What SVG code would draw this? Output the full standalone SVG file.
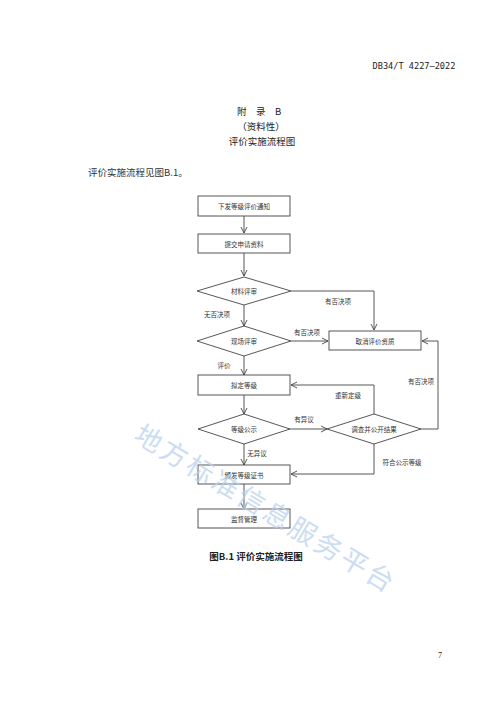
<svg xmlns="http://www.w3.org/2000/svg" width="500" height="707" viewBox="0 0 500 707">
<style>
.box{fill:#fff;stroke:#444;stroke-width:0.9}
.ln{fill:none;stroke:#444;stroke-width:0.9}
.t{font-family:"Noto Sans CJK SC",sans-serif;font-size:6.5px;fill:#333;text-anchor:middle;dominant-baseline:central}
.lb{font-family:"Noto Sans CJK SC",sans-serif;font-size:6.5px;fill:#333;text-anchor:middle;dominant-baseline:central}
.h{font-family:"Noto Sans CJK SC",sans-serif;fill:#222;text-anchor:middle}
.wm{font-family:"Noto Sans CJK SC",sans-serif;font-size:27px;letter-spacing:3px;fill:#b9d2ee;opacity:0.75}
</style>
<defs>
<marker id="ar" markerWidth="8" markerHeight="8" refX="7" refY="4" orient="auto" markerUnits="userSpaceOnUse">
<polyline points="1,1 7,4 1,7" fill="none" stroke="#444" stroke-width="0.9"/>
</marker>
</defs>
<rect width="500" height="707" fill="#fff"/>
<text class="h" x="414" y="69" font-size="8.6" style="font-family:'DejaVu Sans Mono','Liberation Mono',monospace">DB34/T 4227—2022</text>
<text class="h" x="259" y="115" font-size="9.5">附　录　B</text>
<text class="h" x="261" y="130" font-size="9.5">（资料性）</text>
<text class="h" x="262" y="145" font-size="9.5">评价实施流程图</text>
<text x="88" y="176" font-size="9.5" style="font-family:'Noto Sans CJK SC',sans-serif;fill:#333">评价实施流程见图B.1。</text>
<g id="connectors">
<path class="ln" d="M244,216 V233" marker-end="url(#ar)"/>
<path class="ln" d="M244,253 V276" marker-end="url(#ar)"/>
<path class="ln" d="M291,291 H374 V330" marker-end="url(#ar)"/>
<path class="ln" d="M244,305 V326" marker-end="url(#ar)"/>
<path class="ln" d="M291,341 H328" marker-end="url(#ar)"/>
<path class="ln" d="M244,356 V375" marker-end="url(#ar)"/>
<path class="ln" d="M244,395 V414" marker-end="url(#ar)"/>
<path class="ln" d="M290,429 H327" marker-end="url(#ar)"/>
<path class="ln" d="M374,414 V385 H291" marker-end="url(#ar)"/>
<path class="ln" d="M421,429 H438 V341 H422" marker-end="url(#ar)"/>
<path class="ln" d="M374,444 V474 H291" marker-end="url(#ar)"/>
<path class="ln" d="M244,444 V465" marker-end="url(#ar)"/>
<path class="ln" d="M244,484 V509" marker-end="url(#ar)"/>
<text class="lb" x="338" y="301">有否决项</text>
<text class="lb" x="217" y="314">无否决项</text>
<text class="lb" x="307" y="332">有否决项</text>
<text class="lb" x="224" y="365">评价</text>
<text class="lb" x="421" y="381">有否决项</text>
<text class="lb" x="348" y="395">重新定级</text>
<text class="lb" x="304" y="419">有异议</text>
<text class="lb" x="257" y="453">无异议</text>
<text class="lb" x="402" y="462">符合公示等级</text>
</g>
<g id="n1"><rect class="box" x="198" y="196" width="92" height="20"/><text class="t" x="244" y="206">下发等级评价通知</text></g>
<g id="n2"><rect class="box" x="198" y="234" width="92" height="19"/><text class="t" x="244" y="243.5">提交申请资料</text></g>
<g id="n3"><polygon class="box" points="197,291 244,277 291,291 244,305"/><text class="t" x="244" y="291">材料评审</text></g>
<g id="n4"><polygon class="box" points="197,341 244,326 291,341 244,356"/><text class="t" x="244" y="341">现场评审</text></g>
<g id="n5"><rect class="box" x="329" y="331" width="92" height="19"/><text class="t" x="375" y="340.5">取消评价资质</text></g>
<g id="n6"><rect class="box" x="198" y="375" width="92" height="20"/><text class="t" x="244" y="385">拟定等级</text></g>
<g id="n7"><polygon class="box" points="198,429 244,414 290,429 244,444"/><text class="t" x="244" y="429">等级公示</text></g>
<g id="n8"><polygon class="box" points="327,429 374,414 421,429 374,444"/><text class="t" x="374" y="429">调查并公开结果</text></g>
<g id="n9"><rect class="box" x="198" y="465" width="92" height="19"/><text class="t" x="244" y="474.5">颁发等级证书</text></g>
<g id="n10"><rect class="box" x="198" y="509" width="92" height="19"/><text class="t" x="244" y="518.5">监督管理</text></g>
<text class="h" x="256" y="560" font-size="9.5" font-weight="bold">图B.1 评价实施流程图</text>
<text class="h" x="440" y="658" font-size="8" style="font-family:'Liberation Serif',serif">7</text>
<text class="wm" transform="translate(132,440) rotate(31)">地方标准信息服务平台</text>
</svg>
